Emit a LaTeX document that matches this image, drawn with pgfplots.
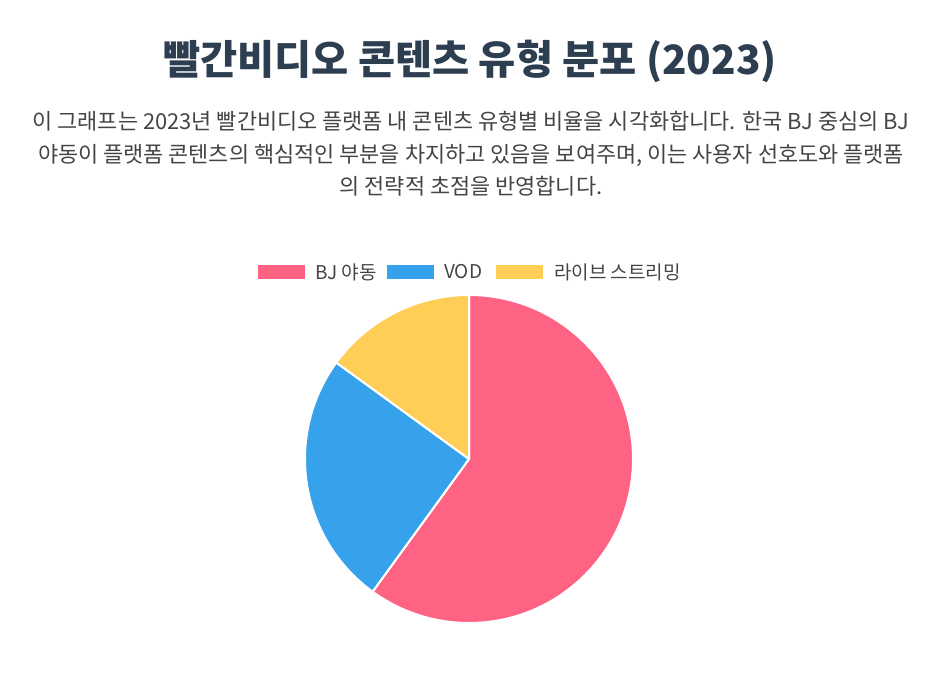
\documentclass[border=0pt]{standalone}
\usepackage{pgfplots}
\pgfplotsset{compat=1.18}
\usepackage{pgfplotstable}
\usepackage{fontspec}
\setmainfont{Noto Sans CJK KR}
\definecolor{pinkc}{HTML}{FF6384}
\definecolor{bluec}{HTML}{36A2EB}
\definecolor{yellowc}{HTML}{FFCE56}
\definecolor{titlec}{HTML}{2C3E50}
\definecolor{textc}{HTML}{444444}
\pgfplotstableread{
idx value
0 60
1 25
2 15
}\piedata
\begin{document}
\begin{tikzpicture}
\pgfplotstablegetelem{0}{value}\of\piedata \let\va\pgfplotsretval
\pgfplotstablegetelem{1}{value}\of\piedata \let\vb\pgfplotsretval
\pgfplotstablegetelem{2}{value}\of\piedata \let\vc\pgfplotsretval
\pgfmathsetmacro\aA{90}
\pgfmathsetmacro\aB{90-3.6*\va}
\pgfmathsetmacro\aC{\aB-3.6*\vb}
\pgfmathsetmacro\aD{\aC-3.6*\vc}
\begin{axis}[hide axis, scale only axis, width=942pt, height=678pt,
  xmin=0, xmax=942, ymin=0, ymax=678, clip=false]
\path (axis cs:0,0) rectangle (axis cs:942,678);
\fill[pinkc, draw=white, line width=2pt, line join=round] (axis cs:469,219) -- ++(\aA:164pt) arc[start angle=\aA, end angle=\aB, radius=164pt] -- cycle;
\fill[bluec, draw=white, line width=2pt, line join=round] (axis cs:469,219) -- ++(\aB:164pt) arc[start angle=\aB, end angle=\aC, radius=164pt] -- cycle;
\fill[yellowc, draw=white, line width=2pt, line join=round] (axis cs:469,219) -- ++(\aC:164pt) arc[start angle=\aC, end angle=\aD, radius=164pt] -- cycle;
% title
\node[text=titlec, font=\fontsize{40.4}{44}\selectfont\bfseries] at (axis cs:470,617) {빨간비디오 콘텐츠 유형 분포 (2023)};
% description
\node[text=textc, font=\fontsize{21.9}{32.5}\selectfont, align=center] at (axis cs:471,524)
 {이 그래프는 2023년 빨간비디오 플랫폼 내 콘텐츠 유형별 비율을 시각화합니다. 한국 BJ 중심의 BJ\\
  야동이 플랫폼 콘텐츠의 핵심적인 부분을 차지하고 있음을 보여주며, 이는 사용자 선호도와 플랫폼\\
  의 전략적 초점을 반영합니다.};
% legend
\fill[pinkc] (axis cs:258,399) rectangle (axis cs:305,413);
\fill[bluec] (axis cs:387,399) rectangle (axis cs:434,413);
\fill[yellowc] (axis cs:496,399) rectangle (axis cs:543,413);
\node[anchor=west, inner sep=0pt, text=textc, font=\fontsize{19}{22}\selectfont] at (axis cs:315,406) {BJ 야동};
\node[anchor=west, inner sep=0pt, text=textc, font=\fontsize{19}{22}\selectfont] at (axis cs:444,406) {VOD};
\node[anchor=west, inner sep=0pt, text=textc, font=\fontsize{19}{22}\selectfont] at (axis cs:554,406) {라이브 스트리밍};
\end{axis}
\end{tikzpicture}
\end{document}
